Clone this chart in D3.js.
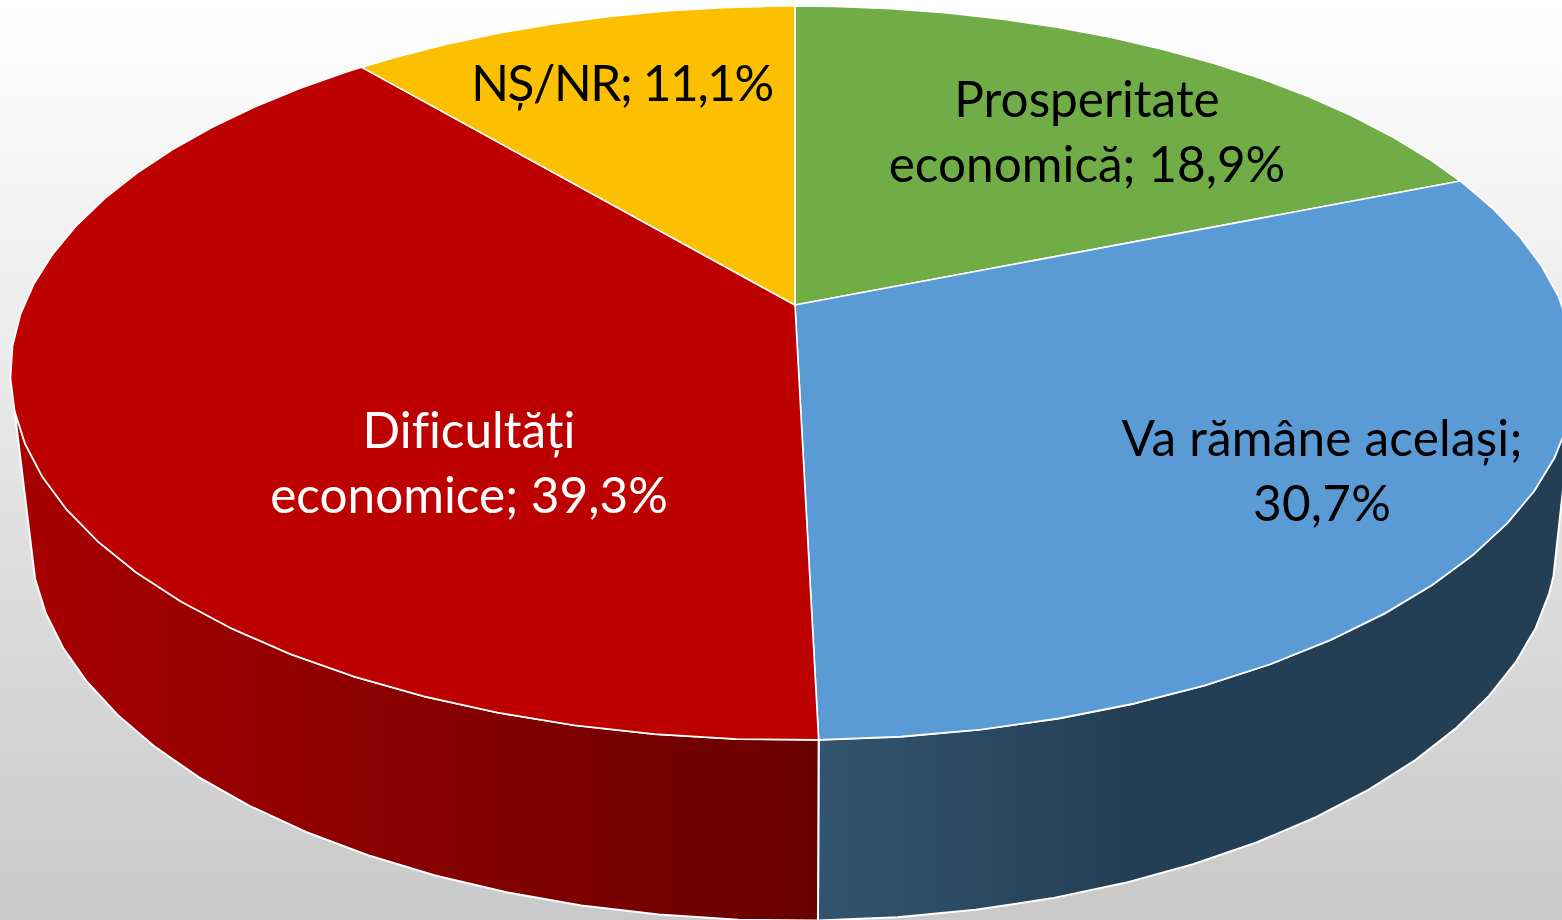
<!DOCTYPE html>
<html><head><meta charset="utf-8">
<script src="https://cdn.jsdelivr.net/npm/d3@7/dist/d3.min.js"></script>
<style>html,body{margin:0;padding:0;overflow:hidden;background:#fff}svg{display:block}
text{font-variant-ligatures:none;font-feature-settings:"liga" 0;}</style>
</head><body><div id="c"></div>
<script>
const categories = ["Prosperitate economică","Va rămâne același","Dificultăți economice","NȘ/NR"];
const values = [18.9,30.7,39.3,11.1];
const labelLines = [["Prosperitate","economică; 18,9%"],["Va rămâne același;","30,7%"],["Dificultăți","economice; 39,3%"],["NȘ/NR; 11,1%"]];
const topColors = ["#70ad47","#5b9bd5","#bd0000","#fcc000"];
const labelColors = ["#000","#000","#fff","#000"];
const wallStops = [null,[["0","#32546f"],["0.4","#243f55"],["1","#243e54"]],[["0","#a80000"],["1","#680000"]],null];
const labelAt = [[1087,117],[1322,456],[469,448],[622,101]];
const labelTracking = [0,0.2,0,-1.4];
const W=1562,H=920,CX=795,STEP=5*Math.PI/180;
const topDisc={S:767,SL:771,A:297.9,B:305,k:0.1853};
const botDisc={S:750,SL:752,A:287,B:468,k:0.18};
const project=(d,a)=>{const u=Math.sin(a),v=Math.cos(a),w=1+d.k*v;return [CX+(u<0?d.SL:d.S)*u/w,(d.B-d.A*v)/w];};
const svg=d3.select("#c").append("svg").attr("width",W).attr("height",H).attr("viewBox",`0 0 ${W} ${H}`);
const defs=svg.append("defs");
const bg=defs.append("linearGradient").attr("id","bg").attr("x1",0).attr("y1",0).attr("x2",0).attr("y2",1);
bg.append("stop").attr("offset",0).attr("stop-color","#ffffff");
bg.append("stop").attr("offset",1).attr("stop-color","#c9c9c9");
svg.append("rect").attr("width",W).attr("height",H).attr("fill","url(#bg)");
const arcs=d3.pie().sort(null).value(d=>d)(values);
const anchor=arcs[2].startAngle;
const anglesOf=(s,e)=>{const out=[s];let a=anchor+(Math.floor((s-anchor)/STEP+1e-6)+1)*STEP;while(a<e-1e-6){out.push(a);a+=STEP;}out.push(e);return out;};
const line=d3.line();
// walls (front half only)
const visMin=Math.PI*0.5+0.28, visMax=anchor+15*STEP;
arcs.forEach((p,i)=>{
  if(!wallStops[i])return;
  const id="wall"+i;
  const g=defs.append("linearGradient").attr("id",id).attr("gradientUnits","userSpaceOnUse");
  const s=Math.max(p.startAngle,visMin),e=Math.min(p.endAngle,visMax);
  const as=anglesOf(s,e);
  const tp=as.map(a=>project(topDisc,a)),bt=as.map(a=>project(botDisc,a));
  const xs=tp.concat(bt).map(d=>d[0]);
  g.attr("x1",d3.min(xs)).attr("x2",d3.max(xs)).attr("y1",0).attr("y2",0);
  wallStops[i].forEach(st=>g.append("stop").attr("offset",st[0]).attr("stop-color",st[1]));
  svg.append("path").attr("d",line(tp.concat(bt.slice().reverse()))+"Z")
    .attr("fill",`url(#${id})`).attr("stroke","#fff").attr("stroke-width",2).attr("stroke-linejoin","round");
});
// top faces
arcs.forEach((p,i)=>{
  const pts=anglesOf(p.startAngle,p.endAngle).map(a=>project(topDisc,a));
  svg.append("path").attr("d",line([[CX,topDisc.B],...pts])+"Z")
    .attr("fill",topColors[i]).attr("stroke","#fff").attr("stroke-width",1.6).attr("stroke-linejoin","round");
});
// labels
labelLines.forEach((ls,i)=>{
  const t=svg.append("text").attr("text-anchor","middle").attr("fill",labelColors[i])
    .attr("font-family","Lato, 'Noto Sans', sans-serif").attr("font-size",49.5).attr("letter-spacing",labelTracking[i]);
  ls.forEach((s,j)=>t.append("tspan").attr("x",labelAt[i][0]).attr("y",labelAt[i][1]+j*65).text(s));
});
</script></body></html>
